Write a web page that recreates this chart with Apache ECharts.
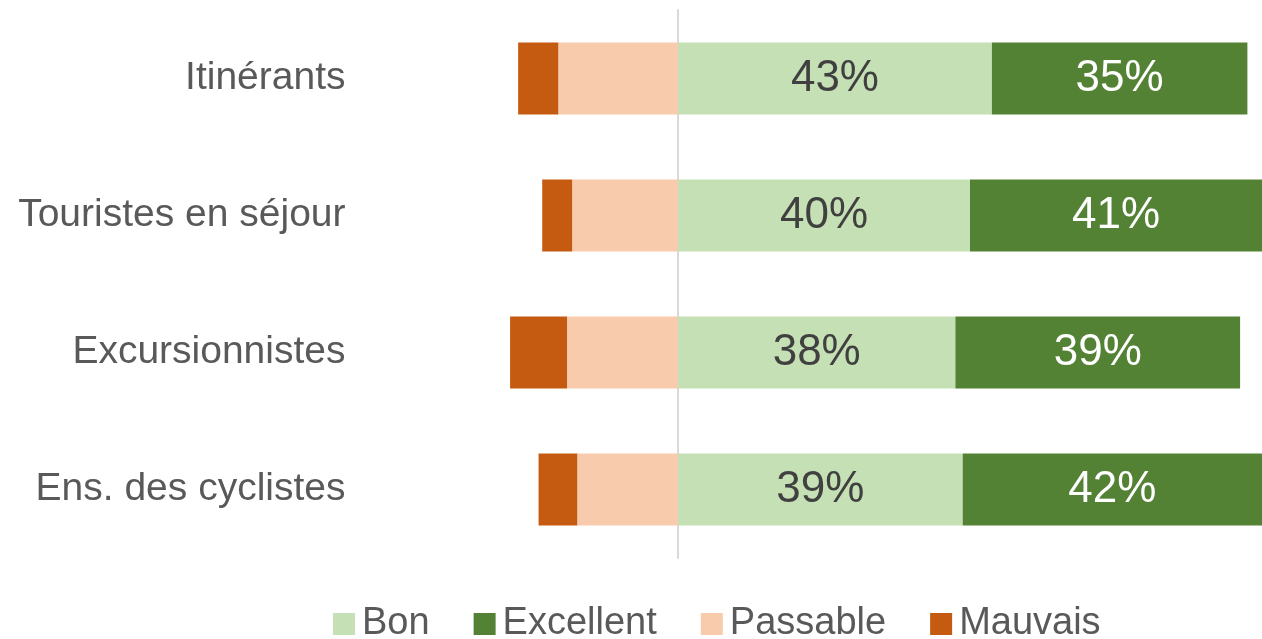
<!DOCTYPE html>
<html>
<head>
<meta charset="utf-8">
<script src="https://cdn.jsdelivr.net/npm/echarts@6/dist/echarts.min.js"></script>
<style>
  html, body { margin: 0; padding: 0; background: #fff; }
  #chart { width: 1262px; height: 639px; }
</style>
</head>
<body>
<div id="chart"></div>
<script>
// catégories (de haut en bas)
var categories = ['Itinérants', 'Touristes en séjour', 'Excursionnistes', 'Ens. des cyclistes'];

// avis positifs (%)
var bon = [43, 40, 38, 39];
var excellent = [35, 41, 39, 42];
// avis négatifs (%), tracés à gauche de zéro
var passable = [16.4, 14.5, 15.2, 13.8];
var mauvais = [5.5, 4.1, 7.8, 5.3];

function neg(arr) {
  return arr.map(function (v) { return -v; });
}

var font = 'Liberation Sans';

var myChart = echarts.init(document.getElementById('chart'));

myChart.setOption({
  animation: false,
  textStyle: { fontFamily: font },
  grid: { left: 495.5, right: 0, top: 10, bottom: 81, containLabel: false, outerBoundsMode: 'none' },
  legend: {
    data: ['Bon', 'Excellent', 'Passable', 'Mauvais'],
    left: 328,
    top: 600,
    icon: 'rect',
    itemWidth: 22,
    itemHeight: 22,
    itemGap: 44,
    textStyle: { fontSize: 38, color: '#595959', fontFamily: font, padding: [0, 0, 0, 2] }
  },
  xAxis: {
    type: 'value',
    min: -25,
    max: 80,
    show: false
  },
  yAxis: {
    type: 'category',
    data: categories,
    inverse: true,
    axisLine: { onZero: true, lineStyle: { color: '#d9d9d9', width: 2 } },
    axisTick: { show: false },
    splitLine: { show: false },
    axisLabel: { margin: 150, fontSize: 39, color: '#595959', fontFamily: font }
  },
  series: [
    {
      name: 'Bon', type: 'bar', stack: 'avis', barWidth: 72,
      data: bon,
      itemStyle: { color: '#c5e0b4' },
      label: { show: true, position: 'inside', formatter: '{c}%', fontSize: 44, color: '#404040', fontFamily: font }
    },
    {
      name: 'Excellent', type: 'bar', stack: 'avis', barWidth: 72,
      data: excellent,
      itemStyle: { color: '#548235' },
      label: { show: true, position: 'inside', formatter: '{c}%', fontSize: 44, color: '#ffffff', fontFamily: font }
    },
    {
      name: 'Passable', type: 'bar', stack: 'avis', barWidth: 72,
      data: neg(passable),
      itemStyle: { color: '#f8cbad' }
    },
    {
      name: 'Mauvais', type: 'bar', stack: 'avis', barWidth: 72,
      data: neg(mauvais),
      itemStyle: { color: '#c55a11' }
    }
  ]
});
</script>
</body>
</html>
